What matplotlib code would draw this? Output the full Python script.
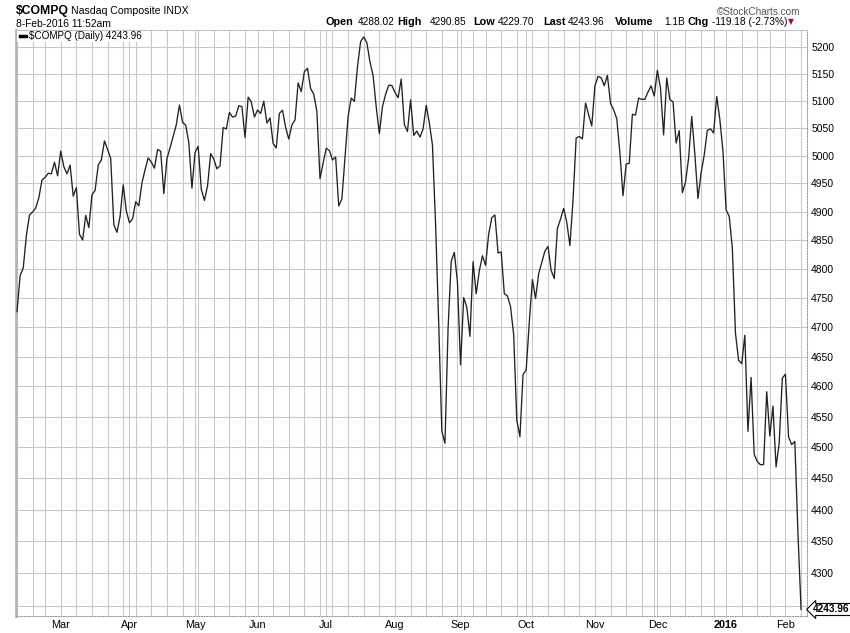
import numpy as np
import pandas as pd
import matplotlib
matplotlib.use('Agg')
import matplotlib.pyplot as plt
from matplotlib.lines import Line2D
from matplotlib.patches import Rectangle
from matplotlib.transforms import blended_transform_factory

plt.rcParams['font.family'] = ['Liberation Sans', 'DejaVu Sans']

# market holidays inside the window
holidays = ['2015-02-16', '2015-04-03', '2015-05-25', '2015-07-03', '2015-09-07',
            '2015-11-26', '2015-12-25', '2016-01-01', '2016-01-18']
dates = pd.bdate_range('2015-02-09', '2016-02-08', freq='C', holidays=holidays)

# daily closes, month by month
feb15 = [4726.01, 4787.64, 4801.18, 4857.61, 4893.84, 4899.27, 4906.36, 4924.70, 4955.97,
         4960.97, 4968.12, 4967.14, 4987.89, 4963.53]
mar15 = [5008.10, 4979.90, 4967.10, 4982.81, 4927.37, 4942.44, 4859.80, 4849.94, 4893.29,
         4871.76, 4929.51, 4937.44, 4982.83, 4992.38, 5026.42, 5010.97, 4994.73, 4876.52,
         4863.36, 4891.22, 4947.44, 4900.88]
apr15 = [4880.23, 4886.94, 4917.32, 4910.23, 4950.82, 4974.56, 4995.98, 4988.25, 4977.29,
         5011.02, 5007.79, 4931.81, 4994.60, 5014.10, 5035.17, 5056.06, 5092.09, 5060.25,
         5055.42, 5023.64, 4941.42]
may15 = [5005.39, 5016.93, 4939.33, 4919.64, 4945.54, 5003.55, 4993.57, 4976.19, 4981.69,
         5050.80, 5048.29, 5078.44, 5070.03, 5071.74, 5090.79, 5089.36, 5032.75, 5106.59,
         5097.98, 5070.03]
jun15 = [5082.93, 5076.52, 5099.23, 5059.12, 5068.46, 5021.63, 5013.87, 5076.69, 5082.51,
         5051.10, 5029.97, 5055.55, 5064.88, 5132.95, 5117.00, 5153.97, 5160.09, 5122.41,
         5112.19, 5080.51, 4958.47, 4986.87]
jul15 = [5013.12, 5009.21, 4991.94, 4997.46, 4909.76, 4922.40, 4997.70, 5071.51, 5104.89,
         5098.94, 5163.18, 5210.14, 5218.86, 5208.12, 5171.77, 5146.41, 5088.63, 5039.78,
         5089.21, 5111.73, 5128.79, 5128.28]
aug15 = [5115.38, 5105.55, 5139.95, 5056.44, 5043.54, 5101.80, 5036.79, 5044.39, 5033.56,
         5048.24, 5091.70, 5059.35, 5019.05, 4877.49, 4706.04, 4526.25, 4506.49, 4697.54,
         4812.71, 4828.33, 4776.51]
sep15 = [4636.11, 4749.98, 4733.50, 4683.92, 4811.93, 4756.53, 4796.25, 4822.34, 4805.76,
         4860.52, 4889.24, 4893.95, 4827.23, 4828.95, 4756.72, 4752.74, 4734.48, 4686.50,
         4543.97, 4517.32, 4620.16]
oct15 = [4627.08, 4707.78, 4781.26, 4748.36, 4791.15, 4810.79, 4830.47, 4838.64, 4796.61,
         4782.85, 4870.10, 4886.69, 4905.47, 4880.97, 4840.12, 4920.05, 5031.86, 5034.70,
         5030.15, 5095.69, 5074.27, 5053.75]
nov15 = [5127.15, 5145.13, 5142.48, 5127.74, 5147.12, 5095.30, 5083.24, 5067.02, 5005.08,
         4927.88, 4984.62, 4986.02, 5075.20, 5073.64, 5104.92, 5102.48, 5102.81, 5116.14,
         5127.53, 5108.67]
dec15 = [5156.31, 5123.22, 5037.53, 5142.27, 5101.81, 5098.24, 5022.87, 5045.17, 4933.47,
         4952.23, 4995.13, 5071.13, 5002.55, 4923.08, 4968.92, 5001.11, 5045.93, 5048.49,
         5040.99, 5107.94, 5065.85, 5007.41]
jan16 = [4903.09, 4891.43, 4835.76, 4689.43, 4643.63, 4637.99, 4685.92, 4526.06, 4615.00,
         4488.42, 4476.95, 4471.69, 4472.06, 4591.18, 4518.49, 4567.67, 4468.17, 4506.68,
         4613.95]
feb16 = [4620.37, 4516.95, 4504.24, 4509.56, 4363.14, 4243.96]

close = np.array(feb15 + mar15 + apr15 + may15 + jun15 + jul15 + aug15 + sep15 +
                 oct15 + nov15 + dec15 + jan16 + feb16)

month_labels = ['Mar', 'Apr', 'May', 'Jun', 'Jul', 'Aug', 'Sep', 'Oct', 'Nov', 'Dec', '2016', 'Feb']
price_levels = list(range(4250, 5201, 50))
last_value = 4243.96

n = len(dates)
x = np.arange(n)

week_starts = [i for i in range(n) if i == 0 or dates[i].isocalendar()[1] != dates[i - 1].isocalendar()[1]]
month_starts = [i for i in range(1, n) if dates[i].month != dates[i - 1].month]

W, H = 850, 633
fig = plt.figure(figsize=(W / 100, H / 100), dpi=100)
fx = lambda px: px / W
fy = lambda py: 1 - py / H

ax = fig.add_axes([fx(16), fy(616), (807 - 16) / W, (616 - 30) / H])
ax.set_yscale('log')
ax.set_ylim(4234, 5232)
ax.set_xlim(-0.32, 252.9)

grid_c = '#c8c8c8'
for lv in price_levels:
    ax.axhline(lv, color=grid_c, lw=0.75, zorder=1)
for i in sorted(set(week_starts + month_starts)):
    ax.axvline(i, color=grid_c, lw=0.75, zorder=1)

ax.plot(x, close, color='#222222', lw=0.95, zorder=3)

ax.set_xticks([])
ax.yaxis.tick_right()
ax.minorticks_off()
ax.set_yticks(price_levels)
ax.set_yticks([], minor=True)
ax.set_yticklabels(['' if lv == 4250 else str(lv) for lv in price_levels], fontsize=7.5)
ax.tick_params(axis='y', length=0, pad=3)

ax.spines['left'].set_color('#b4b4b4')
ax.spines['left'].set_linewidth(2)
ax.spines['top'].set_color('#c0c0c0')
ax.spines['top'].set_linewidth(0.75)
for s in ['right', 'bottom']:
    ax.spines[s].set_color('#999999')
    ax.spines[s].set_linewidth(0.75)
    ax.spines[s].set_linestyle((0, (1, 1.5)))

# month labels below the plot
xt = ax.get_xaxis_transform()
for idx, lab in zip(month_starts, month_labels):
    ax.text(idx, -0.016, lab, transform=xt, ha='center', va='center', fontsize=7.8,
            fontweight='bold' if lab == '2016' else 'normal', clip_on=False)

# last value tag on the price axis
bt = blended_transform_factory(ax.transAxes, ax.transData)
ax.text(1.0075, last_value, f'{last_value:.2f}', transform=bt, ha='left', va='center',
        fontsize=7.3, fontweight='bold',
        bbox=dict(boxstyle='larrow,pad=0.1', fc='white', ec='black', lw=0.8))

# header
fig.text(fx(16), fy(11), r'\$COMPQ', fontsize=8.8, fontweight='bold', va='center')
fig.text(fx(71), fy(11), 'Nasdaq Composite INDX', fontsize=7.6, va='center')
fig.text(fx(16), fy(24), '8-Feb-2016 11:52am', fontsize=7.4, va='center')
fig.text(fx(800), fy(12), '\u00a9StockCharts.com', fontsize=7.2, color='#555555',
         ha='right', va='center')

stats = [('Open', 325, True), ('4288.02', 358, False), ('High', 397, True), ('4290.85', 430, False),
         ('Low', 473, True), ('4229.70', 498, False), ('Last', 543, True), ('4243.96', 568, False),
         ('Volume', 615, True), ('1.1B', 664, False), ('Chg', 688, True),
         ('-119.18 (-2.73%)', 712, False)]
for txt, px, bold in stats:
    fig.text(fx(px), fy(22), txt, fontsize=7.8 if bold else 7.3,
             fontweight='bold' if bold else 'normal', va='center')
fig.text(fx(791), fy(22), '\u25bc', fontsize=5.5, color='#a0102a', ha='center', va='center',
         family='DejaVu Sans')

# legend inside the plot
fig.patches.append(Rectangle((fx(17), fy(42)), (142 - 17) / W, 11 / H, transform=fig.transFigure,
                             fc='white', ec='none', zorder=2))
fig.lines.append(Line2D([fx(20), fx(26)], [fy(36), fy(36)], transform=fig.transFigure,
                        color='black', lw=2.5, zorder=3))
fig.text(fx(29), fy(36), r'\$COMPQ (Daily) 4243.96', fontsize=7.1, va='center', zorder=4)

fig.savefig('out.png', dpi=100)
